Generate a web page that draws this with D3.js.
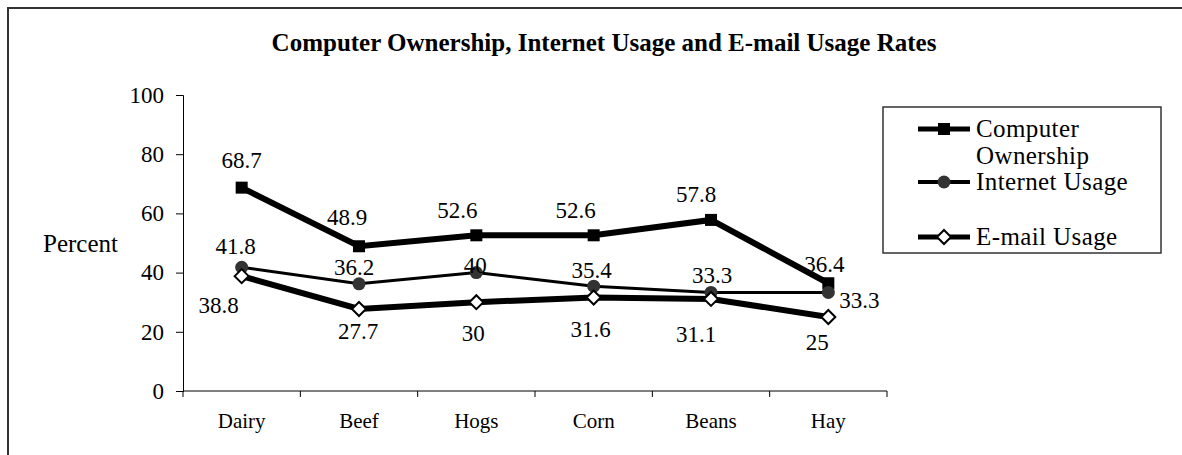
<!DOCTYPE html>
<html>
<head>
<meta charset="utf-8">
<script src="https://cdn.jsdelivr.net/npm/d3@7"></script>
<style>
  html, body { margin: 0; padding: 0; background: #fff; }
  svg { display: block; font-family: "Liberation Serif", "Times New Roman", serif; }
  svg text { font-family: "Liberation Serif", "Times New Roman", serif; fill: #000; }
</style>
</head>
<body>
<svg id="chart" width="1182" height="455"></svg>
<script>
// ---- data ----
const categories = ["Dairy", "Beef", "Hogs", "Corn", "Beans", "Hay"];
const computerOwnership = [68.7, 48.9, 52.6, 52.6, 57.8, 36.4];
const internetUsage = [41.8, 36.2, 40, 35.4, 33.3, 33.3];
const emailUsage = [38.8, 27.7, 30, 31.6, 31.1, 25];
const yTicks = [0, 20, 40, 60, 80, 100];
const seriesNames = ["Computer Ownership", "Internet Usage", "E-mail Usage"];
const titleText = "Computer Ownership, Internet Usage and E-mail Usage Rates";
const yAxisTitle = "Percent";

// ---- layout (label nudges, px) ----
const labelNudge = [
  [[0, -20], [-12, -21], [-19, -17], [-18, -17], [-15, -18], [-4, -11]],
  [[-6, -13], [-5, -9], [-1, 0], [-2, -8], [1, -9], [31, 16]],
  [[-23, 37], [-1, 30], [-3, 39], [-3, 40], [-15, 43], [-11, 33]]
];
const FONT = "Liberation Serif, Times New Roman, serif";

const svg = d3.select("#chart");

// outer frame
svg.append("path")
  .attr("d", "M8,455 V8 H1182")
  .attr("fill", "none").attr("stroke", "#333").attr("stroke-width", 2);

// title
svg.append("text")
  .attr("x", 604).attr("y", 51)
  .attr("text-anchor", "middle")
  .attr("font-family", FONT)
  .attr("font-weight", "bold")
  .attr("font-size", 25)
  .text(titleText);

const x = d3.scaleBand().domain(categories).range([183, 887]);
const y = d3.scaleLinear().domain([0, 100]).range([391, 95]);

// y axis
const yAxis = d3.axisLeft(y).tickValues(yTicks).tickSize(7).tickPadding(12).tickFormat(d3.format("d"));
const gy = svg.append("g").attr("transform", "translate(183,0)").call(yAxis);
gy.attr("font-family", FONT);
gy.selectAll("text").attr("font-size", 23).attr("font-family", FONT);
gy.selectAll("line, path").attr("stroke", "#000");

// x axis with ticks at band boundaries
const gx = svg.append("g").attr("transform", "translate(0,391)");
gx.append("line").attr("x1", 183).attr("x2", 887).attr("stroke", "#000");
const bounds = categories.map(c => x(c)).concat([x(categories[categories.length - 1]) + x.bandwidth()]);
gx.selectAll("line.tk").data(bounds).enter().append("line")
  .attr("class", "tk")
  .attr("x1", d => d).attr("x2", d => d)
  .attr("y1", 0).attr("y2", 6).attr("stroke", "#000");
gx.selectAll("text").data(categories).enter().append("text")
  .attr("x", d => x(d) + x.bandwidth() / 2)
  .attr("y", 37)
  .attr("text-anchor", "middle")
  .attr("font-family", FONT)
  .attr("font-size", 21)
  .text(d => d);

// y title
svg.append("text")
  .attr("x", 118).attr("y", 252)
  .attr("text-anchor", "end")
  .attr("font-family", FONT)
  .attr("font-size", 25)
  .text(yAxisTitle);

const cx = c => x(c) + x.bandwidth() / 2;
const line = d3.line().x((d, i) => cx(categories[i])).y(d => y(d));

const seriesData = [computerOwnership, internetUsage, emailUsage];
const lineWidths = [6, 3, 6];

// lines
seriesData.forEach((vals, s) => {
  svg.append("path")
    .datum(vals)
    .attr("d", line)
    .attr("fill", "none")
    .attr("stroke", "#000")
    .attr("stroke-width", lineWidths[s])
    .attr("stroke-linejoin", "miter");
});

function drawMarker(g, s, px, py) {
  if (s === 0) {
    g.append("rect").attr("x", px - 6).attr("y", py - 6).attr("width", 12).attr("height", 12).attr("fill", "#000");
  } else if (s === 1) {
    g.append("circle").attr("cx", px).attr("cy", py).attr("r", 6.5).attr("fill", "#333");
  } else {
    g.append("path")
      .attr("d", `M${px},${py - 7} L${px + 7},${py} L${px},${py + 7} L${px - 7},${py} Z`)
      .attr("fill", "#fff").attr("stroke", "#000").attr("stroke-width", 2);
  }
}

// markers
seriesData.forEach((vals, s) => {
  const g = svg.append("g");
  vals.forEach((v, i) => drawMarker(g, s, cx(categories[i]), y(v)));
});

// data labels
seriesData.forEach((vals, s) => {
  svg.append("g").selectAll("text").data(vals).enter().append("text")
    .attr("x", (d, i) => cx(categories[i]) + labelNudge[s][i][0])
    .attr("y", (d, i) => y(d) + labelNudge[s][i][1])
    .attr("text-anchor", "middle")
    .attr("font-family", FONT)
    .attr("font-size", 23)
    .text(d => d);
});

// legend
const lg = svg.append("g");
lg.append("rect").attr("x", 883).attr("y", 107).attr("width", 278).attr("height", 146)
  .attr("fill", "#fff").attr("stroke", "#333").attr("stroke-width", 1.5);
const legendY = [129, 182, 237];
const legendLines = [["Computer", "Ownership"], ["Internet Usage"], ["E-mail Usage"]];
const legendLW = [5, 4, 5];
seriesNames.forEach((name, s) => {
  const ly = legendY[s];
  lg.append("line").attr("x1", 918).attr("x2", 970).attr("y1", ly).attr("y2", ly)
    .attr("stroke", "#000").attr("stroke-width", legendLW[s]);
  drawMarker(lg, s, 944, ly);
  legendLines[s].forEach((ln, k) => {
    lg.append("text").attr("x", 976).attr("y", ly + 8 + k * 27)
      .attr("font-family", FONT).attr("font-size", 25).attr("letter-spacing", 0.4)
      .text(ln);
  });
});
</script>
</body>
</html>
